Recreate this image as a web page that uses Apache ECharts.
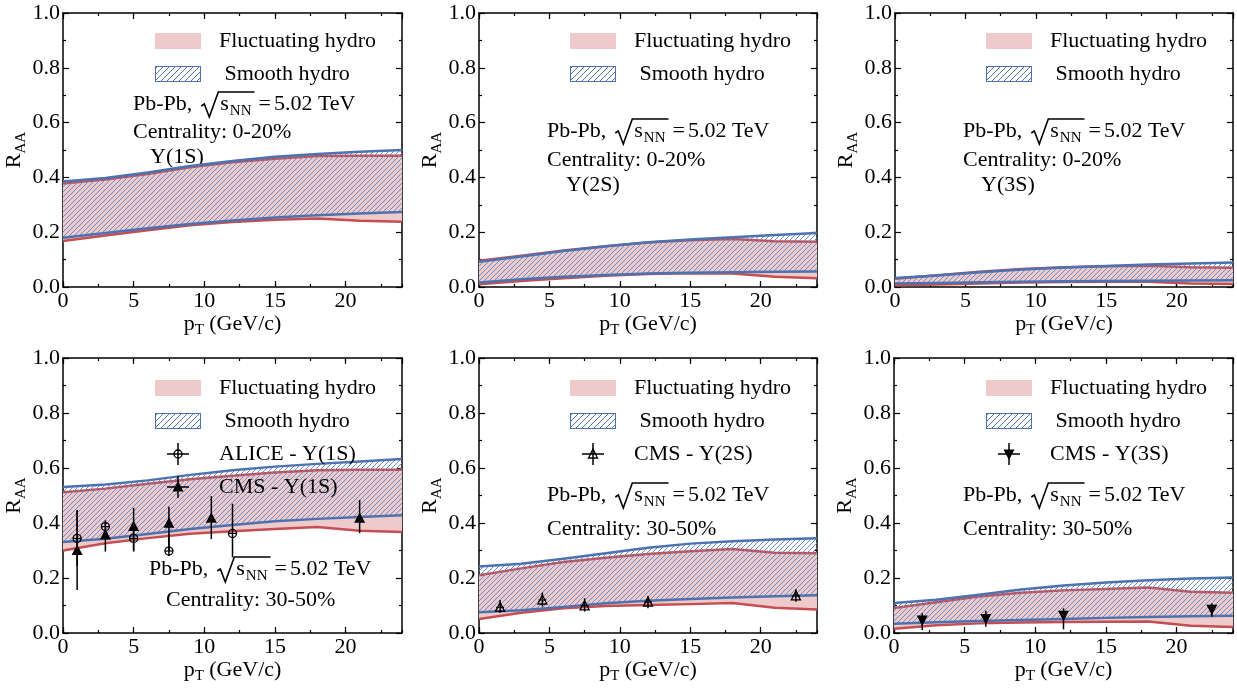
<!DOCTYPE html>
<html>
<head>
<meta charset="utf-8">
<script src="https://cdn.jsdelivr.net/npm/echarts@6/dist/echarts.min.js"></script>
<style>
  html, body { margin: 0; padding: 0; background: #fff; }
  #chart { width: 1237px; height: 688px; }
</style>
</head>
<body>
<div id="chart"></div>
<script>
const SERIF = '"Liberation Serif", "Times New Roman", serif'
const RED = '#c44e52'
const BLUE = '#4c72b0'
const HATCH = '#6a8ccb'
const PINK = '#eecacb'

// pT grid of the model curves (GeV/c)
const ptGrid = [0, 3, 6, 9, 12, 15, 18, 21, 24]

// centrality 0-20%
const fluctLo1S_0_20 = [0.168, 0.188, 0.207, 0.225, 0.237, 0.245, 0.25, 0.242, 0.238]
const fluctHi1S_0_20 = [0.378, 0.392, 0.412, 0.437, 0.455, 0.468, 0.478, 0.479, 0.479]
const smoothLo1S_0_20 = [0.18, 0.197, 0.214, 0.23, 0.243, 0.254, 0.262, 0.268, 0.274]
const smoothHi1S_0_20 = [0.385, 0.398, 0.418, 0.442, 0.46, 0.475, 0.485, 0.494, 0.5]

const fluctLo2S_0_20 = [0.01, 0.022, 0.032, 0.041, 0.047, 0.05, 0.049, 0.037, 0.032]
const fluctHi2S_0_20 = [0.096, 0.114, 0.133, 0.149, 0.162, 0.171, 0.175, 0.167, 0.165]
const smoothLo2S_0_20 = [0.016, 0.028, 0.037, 0.044, 0.049, 0.052, 0.054, 0.056, 0.057]
const smoothHi2S_0_20 = [0.092, 0.111, 0.131, 0.149, 0.163, 0.173, 0.182, 0.19, 0.197]

const fluctLo3S_0_20 = [0.006, 0.009, 0.013, 0.016, 0.018, 0.019, 0.019, 0.013, 0.011]
const fluctHi3S_0_20 = [0.03, 0.043, 0.056, 0.066, 0.072, 0.076, 0.078, 0.072, 0.07]
const smoothLo3S_0_20 = [0.013, 0.015, 0.017, 0.019, 0.021, 0.022, 0.023, 0.024, 0.025]
const smoothHi3S_0_20 = [0.033, 0.042, 0.054, 0.064, 0.071, 0.077, 0.082, 0.086, 0.089]

// centrality 30-50%
const fluctLo1S_30_50 = [0.3, 0.326, 0.345, 0.361, 0.37, 0.378, 0.385, 0.372, 0.367]
const fluctHi1S_30_50 = [0.512, 0.525, 0.543, 0.559, 0.572, 0.584, 0.592, 0.594, 0.594]
const smoothLo1S_30_50 = [0.331, 0.343, 0.36, 0.378, 0.393, 0.406, 0.415, 0.422, 0.428]
const smoothHi1S_30_50 = [0.531, 0.54, 0.555, 0.575, 0.592, 0.605, 0.615, 0.624, 0.633]

const fluctLo2S_30_50 = [0.051, 0.074, 0.09, 0.098, 0.102, 0.105, 0.109, 0.092, 0.085]
const fluctHi2S_30_50 = [0.21, 0.235, 0.258, 0.274, 0.287, 0.297, 0.305, 0.292, 0.29]
const smoothLo2S_30_50 = [0.075, 0.083, 0.095, 0.108, 0.117, 0.124, 0.129, 0.134, 0.137]
const smoothHi2S_30_50 = [0.242, 0.252, 0.27, 0.29, 0.31, 0.325, 0.334, 0.34, 0.345]

const fluctLo3S_30_50 = [0.015, 0.028, 0.035, 0.038, 0.04, 0.041, 0.042, 0.026, 0.022]
const fluctHi3S_30_50 = [0.091, 0.112, 0.133, 0.146, 0.155, 0.16, 0.165, 0.15, 0.146]
const smoothLo3S_30_50 = [0.034, 0.039, 0.044, 0.047, 0.051, 0.055, 0.058, 0.061, 0.063]
const smoothHi3S_30_50 = [0.109, 0.121, 0.139, 0.158, 0.173, 0.184, 0.192, 0.198, 0.202]

// measurements
const aliceX = [1, 3, 5, 7.5, 12]
const aliceY = [0.344, 0.387, 0.344, 0.298, 0.362]
const aliceLo = [0.244, 0.35, 0.3, 0.28, 0.275]
const aliceHi = [0.444, 0.41, 0.39, 0.36, 0.47]

const cms1SX = [1, 3, 5, 7.5, 10.5, 21]
const cms1SY = [0.3, 0.356, 0.387, 0.399, 0.417, 0.417]
const cms1SLo = [0.156, 0.296, 0.296, 0.3, 0.342, 0.363]
const cms1SHi = [0.447, 0.399, 0.455, 0.459, 0.498, 0.484]

const cms2SX = [1.5, 4.5, 7.5, 12, 22.5]
const cms2SY = [0.093, 0.12, 0.099, 0.112, 0.135]
const cms2SLo = [0.074, 0.096, 0.078, 0.09, 0.114]
const cms2SHi = [0.12, 0.147, 0.126, 0.135, 0.159]

const cms3SX = [2, 6.5, 12, 22.5]
const cms3SY = [0.047, 0.053, 0.065, 0.086]
const cms3SLo = [0.011, 0.023, 0.013, 0.059]
const cms3SHi = [0.072, 0.081, 0.09, 0.108]

const xTicks = [0, 5, 10, 15, 20]
const yTicks = [0, 0.2, 0.4, 0.6, 0.8, 1.0]
const centralityLabels = ['Centrality: 0-20%', 'Centrality: 30-50%']
const stateLabels = ['Y(1S)', 'Y(2S)', 'Y(3S)']

// layout
const grids = [
  { left: 63, top: 13, width: 339, height: 274 },
  { left: 479, top: 13, width: 338, height: 274 },
  { left: 895, top: 13, width: 338, height: 274 },
  { left: 63, top: 358, width: 339, height: 275 },
  { left: 479, top: 358, width: 338, height: 275 },
  { left: 894, top: 358, width: 339, height: 275 },
]
const legendPos = [[155, 30], [570, 30], [986, 30], [155, 377], [570, 377], [986, 377]]

const panels = [
  { fl: fluctLo1S_0_20, fh: fluctHi1S_0_20, sl: smoothLo1S_0_20, sh: smoothHi1S_0_20, pts: [] },
  { fl: fluctLo2S_0_20, fh: fluctHi2S_0_20, sl: smoothLo2S_0_20, sh: smoothHi2S_0_20, pts: [] },
  { fl: fluctLo3S_0_20, fh: fluctHi3S_0_20, sl: smoothLo3S_0_20, sh: smoothHi3S_0_20, pts: [] },
  {
    fl: fluctLo1S_30_50, fh: fluctHi1S_30_50, sl: smoothLo1S_30_50, sh: smoothHi1S_30_50,
    pts: [
      { name: 'ALICE - Y(1S)', kind: 'circle', x: aliceX, y: aliceY, lo: aliceLo, hi: aliceHi },
      { name: 'CMS - Y(1S)', kind: 'triUp', x: cms1SX, y: cms1SY, lo: cms1SLo, hi: cms1SHi },
    ],
  },
  {
    fl: fluctLo2S_30_50, fh: fluctHi2S_30_50, sl: smoothLo2S_30_50, sh: smoothHi2S_30_50,
    pts: [{ name: 'CMS - Y(2S)', kind: 'triUpOpen', x: cms2SX, y: cms2SY, lo: cms2SLo, hi: cms2SHi }],
  },
  {
    fl: fluctLo3S_30_50, fh: fluctHi3S_30_50, sl: smoothLo3S_30_50, sh: smoothHi3S_30_50,
    pts: [{ name: 'CMS - Y(3S)', kind: 'triDown', x: cms3SX, y: cms3SY, lo: cms3SLo, hi: cms3SHi }],
  },
]

const makeCanvas = (w, h) => {
  const c = document.createElement('canvas')
  c.width = w
  c.height = h
  return c
}

// crisp pixel staircase, one "/" line per tile
const hatch = (n, color) => {
  const c = makeCanvas(n, n)
  const ctx = c.getContext('2d')
  ctx.fillStyle = color
  for (let i = 0; i < n; i++) ctx.fillRect(i, n - 1 - i, 1, 1)
  return c
}
const hatchTile = hatch(5, HATCH)
const legendHatchTile = hatch(6, BLUE)

const markerPoints = (kind, cx, cy) => {
  if (kind === 'triDown') return [[cx - 5.5, cy - 4.5], [cx + 5.5, cy - 4.5], [cx, cy + 6]]
  if (kind === 'triUpOpen') return [[cx, cy - 5], [cx + 4.5, cy + 4], [cx - 4.5, cy + 4]]
  return [[cx, cy - 6], [cx + 5.5, cy + 4.5], [cx - 5.5, cy + 4.5]]
}

const drawMarker = (ctx, kind, cx, cy) => {
  ctx.strokeStyle = '#000'
  ctx.fillStyle = '#000'
  ctx.lineWidth = 1.3
  ctx.beginPath()
  if (kind === 'circle') {
    ctx.arc(cx, cy, 4, 0, Math.PI * 2)
    ctx.stroke()
    return
  }
  markerPoints(kind, cx, cy).forEach(([px, py], i) => (i ? ctx.lineTo(px, py) : ctx.moveTo(px, py)))
  ctx.closePath()
  if (kind === 'triUpOpen') ctx.stroke()
  else ctx.fill()
}

const ICON_W = 59
const ICON_H = 22

const iconFluct = (() => {
  const c = makeCanvas(ICON_W, ICON_H)
  const ctx = c.getContext('2d')
  ctx.fillStyle = PINK
  ctx.fillRect(0, 3, 46, 16)
  return 'image://' + c.toDataURL()
})()

const iconSmooth = (() => {
  const c = makeCanvas(ICON_W, ICON_H)
  const ctx = c.getContext('2d')
  ctx.fillStyle = ctx.createPattern(legendHatchTile, 'repeat')
  ctx.fillRect(0.5, 3.5, 45, 15)
  ctx.strokeStyle = BLUE
  ctx.lineWidth = 1
  ctx.strokeRect(0.5, 3.5, 45, 15)
  return 'image://' + c.toDataURL()
})()

const iconPoint = (kind) => {
  const c = makeCanvas(ICON_W, ICON_H)
  const ctx = c.getContext('2d')
  ctx.strokeStyle = '#000'
  ctx.lineWidth = 1.5
  ctx.beginPath()
  ctx.moveTo(12, 11)
  ctx.lineTo(34, 11)
  ctx.moveTo(23, 0)
  ctx.lineTo(23, 22)
  ctx.stroke()
  drawMarker(ctx, kind, 23, 11)
  return 'image://' + c.toDataURL()
}

const bandSeries = (name, idx, lo, hi, fill, stroke) => ({
  type: 'custom',
  name,
  xAxisIndex: idx * 4,
  yAxisIndex: idx * 2,
  data: ptGrid.map((x, i) => [x, lo[i], hi[i]]),
  encode: { x: 0, y: [1, 2] },
  clip: true,
  silent: true,
  renderItem: (params, api) => {
    if (params.dataIndexInside !== 0) return null
    const top = []
    const bot = []
    for (let i = 0; i < ptGrid.length; i++) {
      top.push(api.coord([api.value(0, i), api.value(2, i)]))
      bot.push(api.coord([api.value(0, i), api.value(1, i)]))
    }
    return {
      type: 'group',
      children: [
        { type: 'polygon', shape: { points: top.concat(bot.slice().reverse()) }, style: { fill, stroke: null } },
        { type: 'polyline', shape: { points: bot }, style: { stroke, lineWidth: 2.5, fill: null } },
        { type: 'polyline', shape: { points: top }, style: { stroke, lineWidth: 2.5, fill: null } },
      ],
    }
  },
})

const pointSeries = (p, idx) => ({
  type: 'custom',
  name: p.name,
  xAxisIndex: idx * 4,
  yAxisIndex: idx * 2,
  data: p.x.map((x, i) => [x, p.y[i], p.lo[i], p.hi[i]]),
  encode: { x: 0, y: [1, 2, 3] },
  z: 5,
  silent: true,
  renderItem: (params, api) => {
    const c = api.coord([api.value(0), api.value(1)])
    const a = api.coord([api.value(0), api.value(2)])
    const b = api.coord([api.value(0), api.value(3)])
    const children = [
      { type: 'line', shape: { x1: a[0], y1: a[1], x2: b[0], y2: b[1] }, style: { stroke: '#000', lineWidth: 1.5 } },
    ]
    if (p.kind === 'circle') {
      children.push({ type: 'circle', shape: { cx: c[0], cy: c[1], r: 4 }, style: { fill: null, stroke: '#000', lineWidth: 1.3 } })
    } else {
      const filled = p.kind !== 'triUpOpen'
      children.push({
        type: 'polygon',
        shape: { points: markerPoints(p.kind, c[0], c[1]) },
        style: filled ? { fill: '#000', stroke: null } : { fill: null, stroke: '#000', lineWidth: 1.3 },
      })
    }
    if (p.kind === 'circle' || p.kind === 'triUpOpen') {
      children.push({ type: 'line', shape: { x1: c[0] - 4, y1: c[1], x2: c[0] + 4, y2: c[1] }, style: { stroke: '#000', lineWidth: 1.2 } })
    }
    return { type: 'group', children }
  },
})

const axisLine = { onZero: false, lineStyle: { color: '#000', width: 1.5 } }
const tickStyle = { color: '#000', width: 1.2 }
const labelStyle = { color: '#000', fontSize: 22, fontFamily: SERIF }

const xAxes = []
const yAxes = []
grids.forEach((g, i) => {
  const base = { gridIndex: i, type: 'value', min: xTicks[0], max: 24, splitLine: { show: false } }
  xAxes.push({
    ...base,
    position: 'bottom',
    interval: xTicks[1] - xTicks[0],
    axisLine,
    axisTick: { inside: true, length: 6, lineStyle: tickStyle },
    axisLabel: { ...labelStyle, margin: 3, showMaxLabel: false },
    name: '{m|p}{s|T}{m| (GeV/c)}',
    nameLocation: 'middle',
    nameGap: 20,
    nameTextStyle: {
      rich: {
        m: { fontSize: 22, fontFamily: SERIF, color: '#000', lineHeight: 28 },
        s: { fontSize: 15, fontFamily: SERIF, color: '#000', lineHeight: 14, verticalAlign: 'bottom' },
      },
    },
  })
  xAxes.push({
    ...base,
    position: 'bottom',
    interval: (xTicks[1] - xTicks[0]) / 2,
    axisLine: { show: false, onZero: false },
    axisTick: { inside: true, length: 3, lineStyle: tickStyle },
    axisLabel: { show: false },
  })
  xAxes.push({
    ...base,
    position: 'top',
    interval: xTicks[1] - xTicks[0],
    axisLine,
    axisTick: { inside: true, length: 6, lineStyle: tickStyle },
    axisLabel: { show: false },
  })
  xAxes.push({
    ...base,
    position: 'top',
    interval: (xTicks[1] - xTicks[0]) / 2,
    axisLine: { show: false, onZero: false },
    axisTick: { inside: true, length: 3, lineStyle: tickStyle },
    axisLabel: { show: false },
  })
  const ybase = {
    gridIndex: i,
    type: 'value',
    min: yTicks[0],
    max: yTicks[yTicks.length - 1],
    interval: yTicks[1] - yTicks[0],
    splitLine: { show: false },
    axisLine,
    axisTick: { inside: true, length: 6, lineStyle: tickStyle },
    minorTick: { show: true, splitNumber: 2, length: 3, lineStyle: tickStyle },
  }
  yAxes.push({
    ...ybase,
    position: 'left',
    axisLabel: { ...labelStyle, margin: 3, formatter: (v) => v.toFixed(1) },
    name: '{m|R}{s|AA}',
    nameLocation: 'middle',
    nameGap: 22,
    nameTextStyle: {
      rich: {
        m: { fontSize: 22, fontFamily: SERIF, color: '#000', lineHeight: 28 },
        s: { fontSize: 15, fontFamily: SERIF, color: '#000', lineHeight: 14, verticalAlign: 'bottom' },
      },
    },
  })
  yAxes.push({ ...ybase, position: 'right', axisLabel: { show: false } })
})

const series = []
const legends = []
panels.forEach((p, i) => {
  series.push(bandSeries('Fluctuating hydro', i, p.fl, p.fh, PINK, RED))
  series.push(bandSeries(' Smooth hydro', i, p.sl, p.sh, { image: hatchTile, repeat: 'repeat' }, BLUE))
  p.pts.forEach((pt) => series.push(pointSeries(pt, i)))
  legends.push({
    left: legendPos[i][0],
    top: legendPos[i][1],
    orient: 'vertical',
    padding: 0,
    itemGap: 11,
    itemWidth: ICON_W,
    itemHeight: ICON_H,
    selectedMode: false,
    textStyle: { color: '#000', fontSize: 22, fontFamily: SERIF },
    data: [
      { name: 'Fluctuating hydro', icon: iconFluct },
      { name: ' Smooth hydro', icon: iconSmooth },
      ...p.pts.map((pt) => ({ name: pt.name, icon: iconPoint(pt.kind) })),
    ],
  })
})

// annotation text
const measureCtx = makeCanvas(10, 10).getContext('2d')
const textWidth = (t, size) => {
  measureCtx.font = `${size}px ${SERIF}`
  return measureCtx.measureText(t).width
}
const txt = (text, x, base, size) => ({
  type: 'text',
  x,
  y: base - size * 0.3375,
  silent: true,
  style: {
    text,
    font: `${size}px ${SERIF}`,
    fill: '#000',
    align: 'left',
    verticalAlign: 'middle',
    textAlign: 'left',
    textVerticalAlign: 'middle',
  },
})
const sqrtLabel = (x, b) => {
  const r0 = x + textWidth('Pb-Pb,', 22) + 9
  const sx = r0 + 19
  const nx = sx + textWidth('s', 22) + 1
  const over = nx + textWidth('NN', 15) + 3
  const ex = over + 4
  const tx = ex + textWidth('=', 22) + 3
  return [
    txt('Pb-Pb,', x, b, 22),
    {
      type: 'polyline',
      silent: true,
      shape: { points: [[r0, b - 6], [r0 + 3, b - 8], [r0 + 8, b + 5], [r0 + 17, b - 20], [over, b - 20]] },
      style: { stroke: '#000', lineWidth: 1.6, fill: null },
    },
    txt('s', sx, b, 22),
    txt('NN', nx, b + 4, 15),
    txt('=', ex, b, 22),
    txt('5.02 TeV', tx, b, 22),
  ]
}

const graphic = [
  ...sqrtLabel(133, 112), txt(centralityLabels[0], 133, 140, 22), txt(stateLabels[0], 150, 165, 22),
  ...sqrtLabel(547, 139), txt(centralityLabels[0], 547, 168, 22), txt(stateLabels[1], 566, 193, 22),
  ...sqrtLabel(963, 139), txt(centralityLabels[0], 963, 168, 22), txt(stateLabels[2], 981, 193, 22),
  ...sqrtLabel(149, 577), txt(centralityLabels[1], 166, 608, 22),
  ...sqrtLabel(547, 503), txt(centralityLabels[1], 547, 537, 22),
  ...sqrtLabel(963, 503), txt(centralityLabels[1], 963, 537, 22),
]

const chart = echarts.init(document.getElementById('chart'), null, { renderer: 'canvas' })
chart.setOption({
  backgroundColor: '#fff',
  animation: false,
  grid: grids,
  xAxis: xAxes,
  yAxis: yAxes,
  legend: legends,
  series,
  graphic: { elements: graphic },
})
</script>
</body>
</html>
